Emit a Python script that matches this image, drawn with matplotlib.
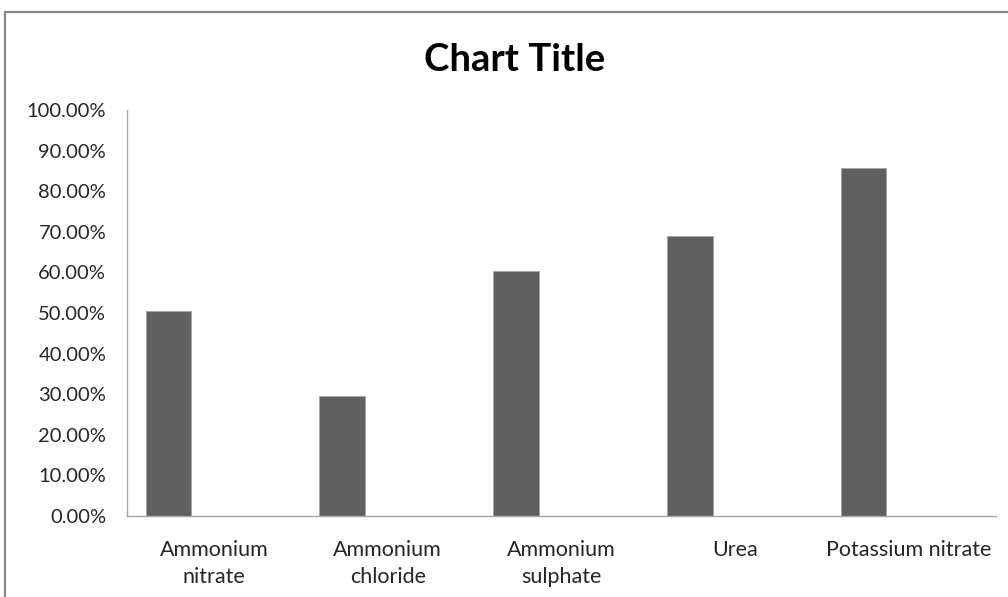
import matplotlib
matplotlib.use("Agg")
import matplotlib.pyplot as plt
from matplotlib.patches import Rectangle
from matplotlib.ticker import PercentFormatter
import numpy as np

plt.rcParams['font.family'] = ['Lato', 'DejaVu Sans']

categories = ["Ammonium\nnitrate", "Ammonium\nchloride", "Ammonium\nsulphate",
              "Urea", "Potassium nitrate"]
values = [0.506, 0.295, 0.603, 0.690, 0.858]
y_ticks = [0.0, 0.1, 0.2, 0.3, 0.4, 0.5, 0.6, 0.7, 0.8, 0.9, 1.0]

W, H = 1008, 597
fig = plt.figure(figsize=(W / 100, H / 100), dpi=100)

# chart frame (continues past the right and bottom edges)
fig.patches.append(Rectangle((5 / W, -0.2), 1.2, 1.2 - 12 / H, transform=fig.transFigure,
                             fill=False, edgecolor='#878787', linewidth=1.6))

ax = fig.add_axes([127 / W, 1 - 516 / H, (996 - 127) / W, (516 - 110) / H])

x = np.arange(len(categories))
bar_w = 0.262
ax.bar(x - bar_w, values, width=bar_w, color='#606060', edgecolor='#a5a5a5', linewidth=0.7)

ax.set_xlim(-0.5, len(categories) - 0.5)
ax.set_ylim(0, 1.0)
ax.set_yticks(y_ticks)
ax.yaxis.set_major_formatter(PercentFormatter(1.0, decimals=2))
ax.set_xticks(x)
ax.set_xticklabels(categories, linespacing=1.45)

for s in ['top', 'right']:
    ax.spines[s].set_visible(False)
for s in ['left', 'bottom']:
    ax.spines[s].set_color('#a6a6a6')
    ax.spines[s].set_linewidth(1.0)

ax.tick_params(axis='y', length=0, pad=15, labelsize=14.5, labelcolor='#262626')
ax.tick_params(axis='x', length=0, pad=17, labelsize=15.5, labelcolor='#262626')

fig.text(515 / W, 1 - 60 / H, "Chart Title", ha='center', va='center',
         fontsize=27.5, fontweight='bold', color='black')

fig.savefig("out.png", dpi=100)
